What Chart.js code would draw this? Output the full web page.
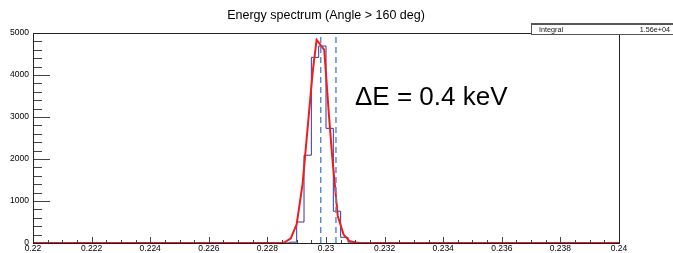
<!DOCTYPE html>
<html>
<head>
<meta charset="utf-8">
<script src="https://cdn.jsdelivr.net/npm/chart.js@4"></script>
<style>
  body { margin: 0; background: #fff; }
</style>
</head>
<body>
<canvas id="spectro" width="673" height="253"></canvas>
<script>
// histogram: 80 bins from 0.22 to 0.24
const histMin = 0.22;
const binWidth = 0.00025;
const counts = [
    0, 0, 0, 0, 0, 0, 0, 0, 0, 0,
    0, 0, 0, 0, 0, 0, 0, 0, 0, 0,
    0, 0, 0, 0, 0, 0, 0, 0, 0, 0,
    0, 0, 0, 0, 0, 20, 500, 2090, 4420, 4690,
    2730, 756, 136, 20, 0, 0, 0, 0, 0, 0,
    0, 0, 0, 0, 0, 0, 0, 0, 0, 0,
    0, 0, 0, 0, 0, 0, 0, 0, 0, 0,
    0, 0, 0, 0, 0, 0, 0, 0, 0, 0
];

// gaussian fit curve
const fitX = [0.22, 0.2285, 0.2286, 0.2288, 0.229, 0.2292, 0.2294, 0.22955, 0.22968, 0.22994, 0.2301, 0.2302, 0.2304, 0.2306, 0.2308, 0.231, 0.2312, 0.24];
const fitY = [0, 0, 20, 110, 450, 1400, 2950, 4100, 4840, 4600, 3050, 2150, 650, 200, 50, 10, 0, 0];

// dashed markers
const markerX = [0.22982, 0.23034];

const xTicks = [0.22, 0.222, 0.224, 0.226, 0.228, 0.23, 0.232, 0.234, 0.236, 0.238, 0.24];
const yTicks = [0, 1000, 2000, 3000, 4000, 5000];

const titleText = "Energy spectrum (Angle > 160 deg)";
const statLabel = "Integral";
const statValue = "1.56e+04";
const noteText = "ΔE = 0.4 keV";

const fontFam = "'Liberation Sans', Arial, Helvetica, sans-serif";

let histPts = counts.map((c, i) => ({ x: histMin + i * binWidth, y: c }));
histPts.push({ x: histMin + counts.length * binWidth, y: counts[counts.length - 1] });

const fitPts = fitX.map((x, i) => ({ x: x, y: fitY[i] }));

const markerSets = markerX.map(x => ({
    data: [{ x: x, y: yTicks[0] }, { x: x, y: yTicks[yTicks.length - 1] }],
    borderColor: "#5a8ed0",
    borderWidth: 1.5,
    borderDash: [6, 4],
    pointRadius: 0,
    clip: false,
    order: 0
}));

// ROOT style frame + inward ticks + stats box + note
const rootDecor = {
    id: "rootDecor",
    afterDatasetsDraw(chart) {
        const ctx = chart.ctx;
        const a = chart.chartArea;
        const xs = chart.scales.x, ys = chart.scales.y;
        ctx.save();
        ctx.strokeStyle = "#444";
        ctx.lineWidth = 1;
        ctx.beginPath();
        // y ticks, major every 1000, minor every 200
        for (let v = 0; v <= 5000; v += 200) {
            const py = Math.round(ys.getPixelForValue(v)) + 0.5;
            const len = v % 1000 === 0 ? 17 : 9;
            ctx.moveTo(a.left, py);
            ctx.lineTo(a.left + len, py);
        }
        // x ticks, major every 0.002, minor every 0.0005
        for (let i = 0; i <= 40; i++) {
            const v = 0.22 + i * 0.0005;
            const px = Math.round(xs.getPixelForValue(v)) + 0.5;
            const len = i % 4 === 0 ? 6 : 3;
            ctx.moveTo(px, a.bottom);
            ctx.lineTo(px, a.bottom - len);
        }
        ctx.stroke();

        ctx.strokeStyle = "#222";
        ctx.strokeRect(Math.round(a.left) + 0.5, Math.round(a.top) + 0.5,
            Math.round(a.right - a.left), Math.round(a.bottom - a.top));

        // stats box
        ctx.fillStyle = "#fff";
        ctx.fillRect(531, 23, 142, 11.5);
        ctx.strokeStyle = "#555";
        ctx.lineWidth = 1;
        ctx.strokeRect(531.5, 24.5, 150, 10);
        ctx.lineWidth = 2;
        ctx.beginPath();
        ctx.moveTo(531, 24);
        ctx.lineTo(673, 24);
        ctx.stroke();
        ctx.fillStyle = "#111";
        ctx.font = "7.2px " + fontFam;
        ctx.textBaseline = "alphabetic";
        ctx.textAlign = "left";
        ctx.fillText(statLabel, 539, 32);
        ctx.textAlign = "right";
        ctx.fillText(statValue, 670, 32);

        // note
        ctx.fillStyle = "#000";
        ctx.font = "26px " + fontFam;
        ctx.textAlign = "left";
        ctx.fillText(noteText, 355, 105);
        ctx.restore();
    }
};

new Chart(document.getElementById("spectro"), {
    type: "line",
    data: {
        datasets: [
            ...markerSets,
            {
                data: fitPts,
                borderColor: "#ee1c1c",
                borderWidth: 2,
                pointRadius: 0,
                tension: 0,
                clip: false,
                order: 1
            },
            {
                data: histPts,
                borderColor: "#3434a6",
                borderWidth: 1,
                pointRadius: 0,
                stepped: true,
                clip: false,
                order: 2
            }
        ]
    },
    options: {
        responsive: false,
        animation: false,
        devicePixelRatio: 1,
        layout: { padding: { left: 0, right: 54, top: 0, bottom: 0 } },
        plugins: {
            legend: { display: false },
            tooltip: { enabled: false },
            title: {
                display: true,
                text: titleText,
                fullSize: false,
                color: "#000",
                font: { family: fontFam, size: 12.5, weight: "normal" },
                padding: { top: 8, bottom: 10 }
            }
        },
        scales: {
            x: {
                type: "linear",
                min: 0.22,
                max: 0.24,
                afterFit: s => { s.height = 10; },
                afterBuildTicks: s => { s.ticks = xTicks.map(v => ({ value: v })); },
                grid: { display: false, drawTicks: false },
                border: { display: false },
                ticks: {
                    autoSkip: false,
                    maxRotation: 0,
                    padding: 1,
                    color: "#000",
                    font: { family: fontFam, size: 8.5 },
                    callback: v => String(parseFloat(v.toFixed(4)))
                }
            },
            y: {
                min: 0,
                max: 5000,
                afterFit: s => { s.width = 33; },
                afterBuildTicks: s => { s.ticks = yTicks.map(v => ({ value: v })); },
                grid: { display: false, drawTicks: false },
                border: { display: false },
                ticks: {
                    padding: 4,
                    color: "#000",
                    font: { family: fontFam, size: 8.5 },
                    callback: v => String(v)
                }
            }
        }
    },
    plugins: [rootDecor]
});
</script>
</body>
</html>
